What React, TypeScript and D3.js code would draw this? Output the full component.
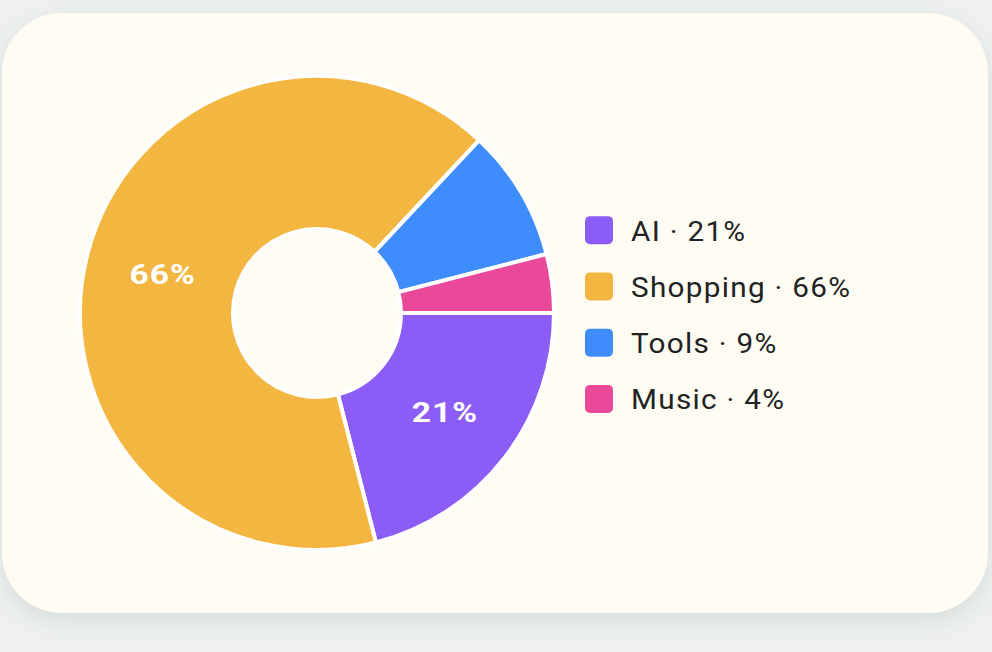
import React from "react";
import * as d3 from "d3";

const categories = ["AI", "Shopping", "Tools", "Music"];
const values = [21, 66, 9, 4];
const colors = ["#8b5cf6", "#f3b741", "#3f8dfc", "#ea4899"];

const W = 992;
const H = 652;

export default function App() {
  const cx = 317;
  const cy = 313;
  const outerR = 237;
  const innerR = 84;

  const pie = d3
    .pie<number>()
    .sort(null)
    .startAngle(Math.PI / 2)
    .endAngle(Math.PI / 2 + 2 * Math.PI)(values);

  const arc = d3.arc<d3.PieArcDatum<number>>().innerRadius(innerR).outerRadius(outerR);

  const total = d3.sum(values);
  const legendY = d3.scaleBand<string>().domain(categories).range([202, 427]);

  return (
    <svg
      width={W}
      height={H}
      style={{ position: "absolute", left: 0, top: 0, display: "block" }}
      fontFamily="Roboto, sans-serif"
    >
      <defs>
        <filter id="shadow" x="-10%" y="-10%" width="120%" height="130%">
          <feDropShadow dx="0" dy="8" stdDeviation="10" floodColor="#9aa8a2" floodOpacity="0.25" />
        </filter>
      </defs>
      <rect x={0} y={0} width={W} height={H} fill="#edf0ee" />
      <rect x={2} y={13} width={986} height={600} rx={60} ry={60} fill="#fffcf4" filter="url(#shadow)" />
      <g transform={`translate(${cx},${cy})`}>
        {pie.map((d, i) => (
          <path key={categories[i]} d={arc(d) || ""} fill={colors[i]} stroke="#ffffff" strokeWidth={4} strokeLinejoin="round" />
        ))}
        {pie.map((d, i) => {
          const pct = (values[i] / total) * 100;
          if (pct < 15) return null;
          const [x, y] = arc.centroid(d);
          return (
            <text
              key={"l" + categories[i]}
              transform={`translate(${x + 1},${y + 1}) scale(1.18,1)`}
              textAnchor="middle"
              dominantBaseline="central"
              fill="#ffffff"
              fontSize={28.5}
              fontWeight={700}
              letterSpacing={0.8}
            >
              {`${Math.round(pct)}%`}
            </text>
          );
        })}
      </g>
      <g>
        {categories.map((c, i) => {
          const y = (legendY(c) || 0) + legendY.bandwidth() / 2;
          return (
            <g key={"lg" + c}>
              <rect x={585} y={y - 14} width={28} height={28} rx={5} fill={colors[i]} />
              <text
                transform={`translate(631,${y + 1}) scale(1.08,1)`}
                dominantBaseline="central"
                fontSize={27.5}
                letterSpacing={1.2}
                fill="#222222"
              >
                {`${c} · ${Math.round((values[i] / total) * 100)}%`}
              </text>
            </g>
          );
        })}
      </g>
    </svg>
  );
}
